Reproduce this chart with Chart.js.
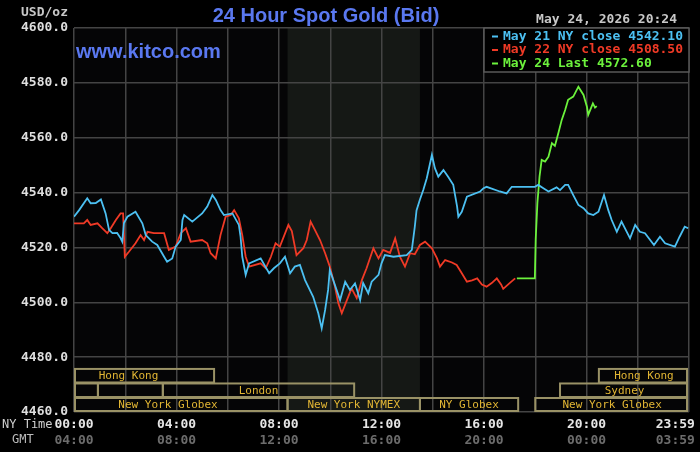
<!DOCTYPE html>
<html>
<head>
<meta charset="utf-8">
<script src="https://cdn.jsdelivr.net/npm/chart.js@4.4.1/dist/chart.umd.min.js"></script>
<style>
  html, body { margin: 0; padding: 0; background: #000; }
</style>
</head>
<body>
<canvas id="myChart" width="700" height="452"></canvas>
<script>
// minutes after midnight (NY time) and bid prices
const blueMinutes = [0,12,31,39,51,63,74,82,90,101,109,113,117,125,144,160,168,183,195,211,218,230,238,250,254,258,277,300,312,324,332,343,351,371,386,390,394,402,410,437,457,468,482,494,506,517,529,541,560,572,580,588,595,599,607,623,635,646,658,670,677,689,697,713,720,728,748,779,791,798,802,810,818,826,838,845,853,865,876,888,897,900,908,920,951,959,966,997,1013,1025,1079,1087,1099,1111,1130,1138,1150,1157,1169,1181,1193,1204,1216,1228,1241,1251,1259,1271,1282,1302,1314,1325,1337,1358,1372,1384,1407,1418,1430,1438];
const bluePrices = [4531.2,4533.6,4537.9,4536.1,4536.2,4537.5,4532.4,4526.4,4525.2,4525.3,4523.4,4522.1,4528.9,4531.2,4533.0,4528.8,4524.5,4522.1,4520.9,4516.6,4514.8,4516.0,4520.3,4522.7,4530.0,4531.8,4529.4,4532.4,4534.9,4539.1,4537.3,4533.6,4531.8,4532.4,4528.2,4523.9,4516.6,4510.0,4514.2,4516.0,4510.6,4512.4,4514.2,4516.6,4510.6,4513.0,4513.6,4508.1,4502.0,4496.0,4490.5,4497.2,4504.5,4511.8,4508.1,4500.8,4507.5,4504.5,4506.9,4500.8,4507.0,4503.3,4507.5,4510.0,4514.2,4517.2,4516.6,4517.2,4519.1,4527.6,4533.5,4537.5,4541.0,4545.2,4553.7,4548.9,4545.8,4548.2,4545.8,4542.8,4534.9,4531.2,4533.0,4538.5,4540.4,4541.6,4542.1,4540.4,4539.7,4542.1,4542.1,4542.8,4541.6,4540.4,4541.9,4540.9,4542.8,4542.8,4539.1,4535.5,4534.3,4532.4,4531.8,4533.0,4539.1,4533.6,4530.0,4525.7,4529.4,4523.3,4528.2,4525.7,4525.2,4520.9,4523.9,4521.5,4520.3,4523.9,4527.6,4527.0];

const redMinutes = [0,23,31,39,55,66,78,86,98,109,115,119,129,144,156,164,172,187,211,222,238,250,262,273,300,312,320,332,343,355,367,375,386,394,402,410,437,449,461,472,482,502,510,521,537,545,554,564,576,588,599,611,619,627,639,650,662,674,685,701,713,724,740,752,763,775,787,798,810,822,838,850,857,869,885,896,908,920,932,944,955,966,978,990,1000,1005,1020,1033];
const redPrices = [4528.8,4528.8,4530.0,4528.2,4528.8,4527.0,4525.2,4527.0,4530.0,4532.4,4532.4,4516.6,4518.5,4521.5,4524.5,4522.7,4525.7,4525.2,4525.2,4519.1,4520.3,4525.2,4527.0,4522.1,4522.7,4521.5,4517.9,4516.0,4524.5,4531.2,4531.8,4533.6,4530.6,4524.5,4516.6,4513.0,4514.2,4512.4,4516.6,4521.5,4520.3,4528.2,4526.0,4517.2,4519.7,4522.7,4529.4,4526.4,4522.7,4517.9,4513.0,4505.7,4499.6,4496.0,4500.8,4505.1,4501.5,4508.1,4512.4,4519.7,4516.0,4519.1,4518.0,4523.3,4516.6,4513.0,4517.9,4517.5,4520.9,4522.1,4519.7,4516.0,4513.0,4515.4,4514.5,4513.6,4510.6,4507.5,4508.0,4508.7,4506.5,4505.7,4507.0,4508.7,4506.5,4504.9,4507.0,4508.7];

const greenMinutes = [1037,1079,1081,1085,1090,1095,1103,1111,1119,1126,1134,1142,1150,1157,1169,1181,1193,1201,1204,1215,1220,1224];
const greenPrices = [4508.7,4508.7,4522.7,4536.1,4545.8,4551.9,4551.3,4553.1,4558.0,4557.0,4561.6,4566.5,4570.1,4573.8,4575.0,4578.6,4575.6,4571.3,4568.3,4572.5,4571.0,4571.5];

const seriesLabels = ["May 21 NY close 4542.10", "May 22 NY close 4508.50", "May 24 Last 4572.60"];
const seriesColors = ["#4cc0f2", "#f03a26", "#6cf23c"];

// axis ticks
const gridMinutes = [0,120,240,360,480,600,720,840,960,1080,1200,1320,1440];
const labelMinutes = [0,240,480,720,960,1200,1408];
const nyLabels = ["00:00","04:00","08:00","12:00","16:00","20:00","23:59"];
const gmtLabels = ["04:00","08:00","12:00","16:00","20:00","00:00","03:59"];

// trading sessions: name, start, end (minutes), row (0 = bottom)
const sessionNames = ["Hong Kong", "", "", "London", "New York Globex", "New York NYMEX", "NY Globex", "New York Globex", "Sydney", "Hong Kong"];
const sessionStart = [-73, -30, 56, 208, -60, 500, 810, 1080, 1138, 1229];
const sessionEnd = [328, 56, 208, 656, 500, 810, 1040, 1440, 1440, 1440];
const sessionRow = [2, 1, 1, 1, 0, 0, 0, 0, 1, 2];
const nymexStart = 500;
const nymexEnd = 810;

const titleText = "24 Hour Spot Gold (Bid)";
const siteText = "www.kitco.com";
const dateText = "May 24, 2026 20:24";

const mono = "'DejaVu Sans Mono', monospace";
const gridColor = "#444444";

function toPoints(mins, vals) {
  return mins.map((m, i) => ({ x: m, y: vals[i] }));
}

const decor = {
  id: "decor",
  beforeDraw(chart) {
    const { ctx, chartArea: a, scales } = chart;
    ctx.save();
    ctx.fillStyle = "#000";
    ctx.fillRect(0, 0, chart.width, chart.height);
    ctx.fillStyle = "#050506";
    ctx.fillRect(a.left, a.top, a.width, a.height);
    const s = scales.x.getPixelForValue(nymexStart);
    const e = scales.x.getPixelForValue(nymexEnd);
    ctx.fillStyle = "#151815";
    ctx.fillRect(s, a.top, e - s, a.height);
    ctx.restore();
  },
  afterDatasetsDraw(chart) {
    const { ctx, chartArea: a } = chart;
    ctx.save();
    // legend box
    const bx = 484, by = a.top, bw = a.right - 484, bh = 44;
    ctx.fillStyle = "#000";
    ctx.fillRect(bx, by, bw, bh);
    ctx.strokeStyle = "#5a5a5a";
    ctx.lineWidth = 1.5;
    ctx.strokeRect(bx, by, bw, bh);
    ctx.font = "bold 13px " + mono;
    ctx.textBaseline = "middle";
    ctx.textAlign = "left";
    seriesLabels.forEach((t, i) => {
      const ty = by + 8.5 + i * 13.5;
      ctx.fillStyle = seriesColors[i];
      ctx.fillRect(bx + 8, ty - 1, 6, 2);
      ctx.fillText(t, bx + 19, ty);
    });
    ctx.restore();
  },
  afterDraw(chart) {
    const { ctx, chartArea: a, scales } = chart;
    const x = scales.x, y = scales.y;
    ctx.save();
    // session boxes
    const rowEdges = [4460, 4465.1, 4470.4, 4475.7];
    ctx.font = "11px " + mono;
    ctx.textAlign = "center";
    ctx.textBaseline = "middle";
    sessionNames.forEach((name, i) => {
      const r = sessionRow[i];
      const xs = x.getPixelForValue(sessionStart[i]);
      const xe = x.getPixelForValue(sessionEnd[i]);
      const x0 = Math.max(xs, a.left + 1);
      const x1 = Math.min(xe, a.right - 2);
      const y0 = y.getPixelForValue(rowEdges[r + 1]);
      const y1 = y.getPixelForValue(rowEdges[r]) - 1;
      ctx.strokeStyle = "#9a9266";
      ctx.lineWidth = 2;
      ctx.strokeRect(x0, y0, x1 - x0, y1 - y0);
      if (name) {
        ctx.fillStyle = "#e2b634";
        ctx.fillText(name, (xs + xe) / 2, (y0 + y1) / 2 + 0.5);
      }
    });
    // titles and texts
    ctx.textBaseline = "middle";
    ctx.fillStyle = "#5a78f0";
    ctx.font = "bold 20px 'Liberation Sans', Arial, sans-serif";
    ctx.textAlign = "center";
    ctx.fillText(titleText, 326, 16);
    ctx.textAlign = "left";
    ctx.fillText(siteText, 76, 52);
    ctx.font = "bold 13px " + mono;
    ctx.fillStyle = "#c8c8c8";
    ctx.textAlign = "right";
    ctx.fillText(dateText, 677, 20);
    ctx.fillText("USD/oz", 68, 13);
    ctx.font = "12px " + mono;
    ctx.fillStyle = "#cfcfcf";
    ctx.textAlign = "left";
    ctx.fillText("NY Time", 2, 425);
    ctx.fillStyle = "#bdbdbd";
    ctx.fillText("GMT", 12, 440);
    ctx.restore();
  }
};

const graph = document.querySelector("#myChart");
const myChart = new Chart(graph, {
  type: "line",
  data: {
    datasets: [
      { label: seriesLabels[0], data: toPoints(blueMinutes, bluePrices), borderColor: seriesColors[0] },
      { label: seriesLabels[1], data: toPoints(redMinutes, redPrices), borderColor: seriesColors[1] },
      { label: seriesLabels[2], data: toPoints(greenMinutes, greenPrices), borderColor: seriesColors[2] }
    ]
  },
  options: {
    responsive: false,
    animation: false,
    layout: { padding: { top: 28, right: 11, left: 0, bottom: 0 } },
    elements: {
      line: { borderWidth: 1.8, tension: 0 },
      point: { radius: 0 }
    },
    plugins: { legend: { display: false }, tooltip: { enabled: false } },
    scales: {
      x: {
        type: "linear",
        min: 0,
        max: 1440,
        afterBuildTicks: (s) => {
          s.ticks = gridMinutes.concat([1408]).sort((p, q) => p - q).map((v) => ({ value: v }));
        },
        afterFit: (s) => { s.height = 20; },
        ticks: {
          autoSkip: false,
          maxRotation: 0,
          padding: 5,
          color: "#e6e6e6",
          font: { family: mono, size: 13, weight: "bold" },
          callback: (v) => {
            const i = labelMinutes.indexOf(v);
            return i >= 0 ? nyLabels[i] : "";
          }
        },
        grid: {
          color: (c) => (c.tick && c.tick.value === 1408 ? "rgba(0,0,0,0)" : gridColor),
          lineWidth: 1.5,
          drawTicks: false
        },
        border: { display: false }
      },
      x2: {
        type: "linear",
        position: "bottom",
        min: 0,
        max: 1440,
        afterBuildTicks: (s) => {
          s.ticks = labelMinutes.map((v) => ({ value: v }));
        },
        afterFit: (s) => { s.height = 20; },
        ticks: {
          autoSkip: false,
          maxRotation: 0,
          padding: 1,
          color: "#6c6c6c",
          font: { family: mono, size: 13, weight: "bold" },
          callback: (v) => {
            const i = labelMinutes.indexOf(v);
            return i >= 0 ? gmtLabels[i] : "";
          }
        },
        grid: { display: false, drawTicks: false },
        border: { display: false }
      },
      y: {
        min: 4460,
        max: 4600,
        afterFit: (s) => { s.width = 74; },
        ticks: {
          stepSize: 20,
          padding: 6,
          color: "#dedede",
          font: { family: mono, size: 13, weight: "bold" },
          callback: (v) => Number(v).toFixed(1)
        },
        grid: { color: gridColor, lineWidth: 1.5, drawTicks: false },
        border: { display: false }
      }
    }
  },
  plugins: [decor]
});
</script>
</body>
</html>
